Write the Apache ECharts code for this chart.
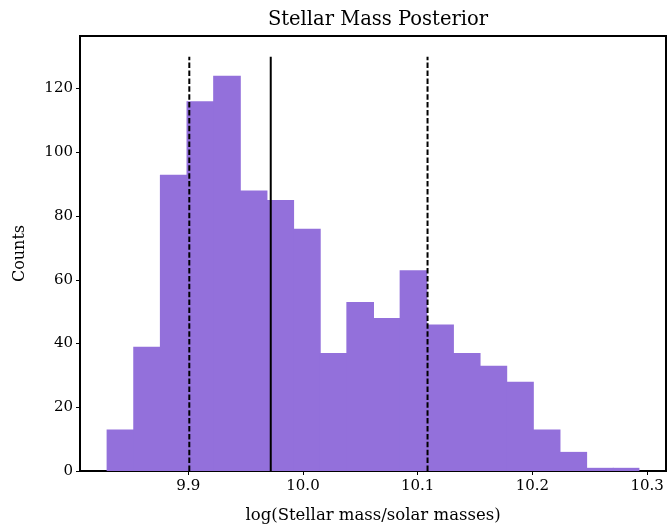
<!DOCTYPE html>
<html>
<head>
<meta charset="utf-8">
<script src="https://cdn.jsdelivr.net/npm/echarts@6/dist/echarts.min.js"></script>
<style>html,body{margin:0;padding:0;background:#fff}#c{width:668px;height:529px}</style>
</head>
<body>
<div id="c"></div>
<script>
// Histogram data
var binStart = 9.8288;
var binWidth = 0.023225;
var counts = [13, 39, 93, 116, 124, 88, 85, 76, 37, 53, 48, 63, 46, 37, 33, 28, 13, 6, 1, 1];
// Percentile lines
var lowerLine = 9.9009;
var medianLine = 9.9719;
var upperLine = 10.1086;
var lineTop = 130;
// Ticks
var xTicks = [9.9, 10.0, 10.1, 10.2, 10.3];
var yTicks = [0, 20, 40, 60, 80, 100, 120];

var histData = counts.map(function (c, i) {
  return [binStart + i * binWidth, binStart + (i + 1) * binWidth, c];
});

var FONT = 'DejaVu Serif';
var chart = echarts.init(document.getElementById('c'), null, {renderer: 'canvas'});
chart.setOption({
  animation: false,
  backgroundColor: '#fff',
  title: {
    text: 'Stellar Mass Posterior',
    left: 373, top: 5, textAlign: 'center',
    textStyle: {fontFamily: FONT, fontSize: 19.5, fontWeight: 'normal', color: '#000'}
  },
  grid: {left: 80, right: 2, top: 36, bottom: 57, show: true, borderColor: '#000', borderWidth: 2, backgroundColor: 'transparent'},
  xAxis: {
    type: 'value', min: 9.8056, max: 10.3165,
    name: 'log(Stellar mass/solar masses)', nameLocation: 'middle', nameGap: 36,
    nameTextStyle: {fontFamily: FONT, fontSize: 16.5, color: '#000'},
    axisLine: {show: true, onZero: false, lineStyle: {color: '#000', width: 2}},
    axisTick: {show: true, length: 4, customValues: xTicks, lineStyle: {color: '#000', width: 1}},
    axisLabel: {customValues: xTicks, fontFamily: FONT, fontSize: 15, color: '#000', margin: 8,
      formatter: function (v) { return v.toFixed(1); }},
    splitLine: {show: false}
  },
  yAxis: {
    type: 'value', min: 0, max: 136.5,
    name: 'Counts', nameLocation: 'middle', nameGap: 52, nameRotate: 90,
    nameTextStyle: {fontFamily: FONT, fontSize: 16, color: '#000'},
    axisLine: {show: true, lineStyle: {color: '#000', width: 2}},
    axisTick: {show: true, length: 4, customValues: yTicks, lineStyle: {color: '#000', width: 1}},
    axisLabel: {customValues: yTicks, fontFamily: FONT, fontSize: 15, color: '#000', margin: 7},
    splitLine: {show: false}
  },
  series: [
    {
      type: 'custom',
      data: histData,
      encode: {x: [0, 1], y: 2},
      renderItem: function (params, api) {
        var p0 = api.coord([api.value(0), api.value(2)]);
        var p1 = api.coord([api.value(1), 0]);
        var last = params.dataIndex === counts.length - 1;
        return {
          type: 'rect',
          shape: {x: p0[0], y: p0[1], width: p1[0] - p0[0] + (last ? 0 : 1), height: p1[1] - p0[1]},
          style: {fill: '#9370DB'}
        };
      },
      z: 1
    },
    {type: 'line', data: [[lowerLine, 0], [lowerLine, lineTop]], symbol: 'none', z: 3,
      lineStyle: {color: '#000', width: 2, type: [5.5, 2.4]}},
    {type: 'line', data: [[medianLine, 0], [medianLine, lineTop]], symbol: 'none', z: 3,
      lineStyle: {color: '#000', width: 2, type: 'solid'}},
    {type: 'line', data: [[upperLine, 0], [upperLine, lineTop]], symbol: 'none', z: 3,
      lineStyle: {color: '#000', width: 2, type: [5.5, 2.4]}}
  ]
});
</script>
</body>
</html>
